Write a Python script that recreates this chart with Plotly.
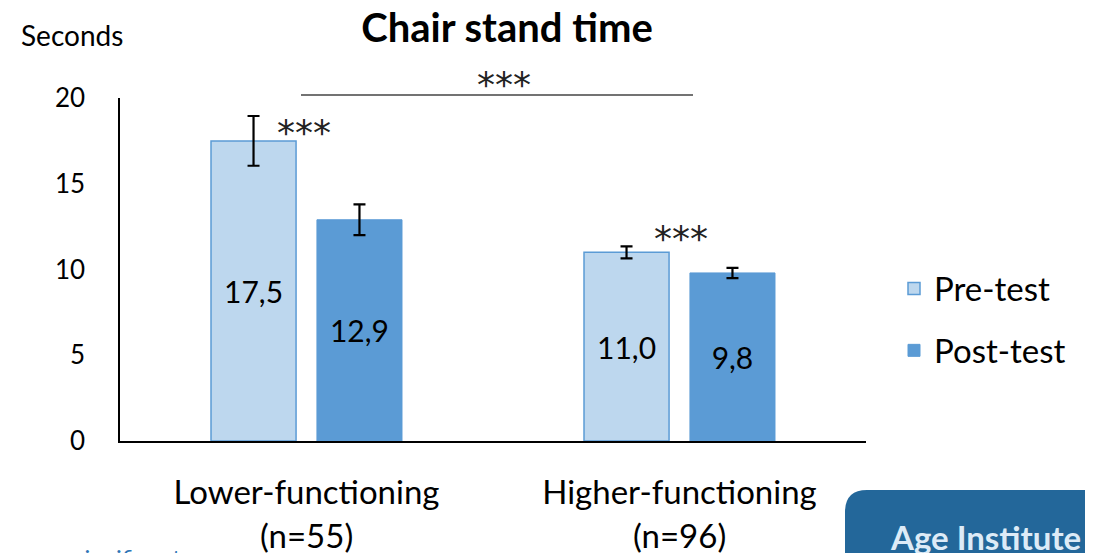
import plotly.graph_objects as go

categories = ["Lower-functioning", "Higher-functioning"]
n_labels = ["(n=55)", "(n=96)"]
pre_values = [17.5, 11.0]
post_values = [12.9, 9.8]
pre_err = [1.45, 0.35]
post_err = [0.9, 0.3]
pre_text = ["17,5", "11,0"]
post_text = ["12,9", "9,8"]
y_ticks = [0, 5, 10, 15, 20]

FONT = "Lato, Calibri, Carlito, sans-serif"
STAR_FONT = "DejaVu Sans, sans-serif"

# page has an 8px body margin; plot area on page spans x 120-866, y 98-441
OFF = 8
PL, PR, PT, PB = 120, 866, 98, 441
W, H = 1093, 553
PW, PH = PR - PL, PB - PT


def px(xp):
    return (xp - PL) / PW


def py(yp):
    return (PB - yp) / PH


fig = go.Figure()
fig.add_trace(go.Bar(
    x=categories, y=pre_values, name="Pre-test",
    marker=dict(color="#BDD7EE", line=dict(color="#5B9BD5", width=1.5)),
    width=0.228, offset=-0.256,
    error_y=dict(type="data", array=pre_err, visible=True, color="black", thickness=2.2, width=6),
    text=pre_text, textposition="inside", insidetextanchor="middle",
    textfont=dict(size=30, color="black", family=FONT),
    legendgroup="a",
))
fig.add_trace(go.Bar(
    x=categories, y=post_values, name="Post-test",
    marker=dict(color="#5B9BD5", line=dict(color="#5B9BD5", width=1)),
    width=0.228, offset=0.028,
    error_y=dict(type="data", array=post_err, visible=True, color="black", thickness=2.2, width=6),
    text=post_text, textposition="inside", insidetextanchor="middle",
    textfont=dict(size=30, color="black", family=FONT),
    legendgroup="b",
))

fig.update_layout(
    width=W, height=H,
    margin=dict(l=PL - OFF, r=W - (PR - OFF), t=PT - OFF, b=H - (PB - OFF)),
    paper_bgcolor="white", plot_bgcolor="white",
    font=dict(family=FONT, color="black"),
    title=dict(text="<b>Chair stand time</b>", x=(507 - OFF) / W, xanchor="center",
               y=1 - (28 - OFF) / H, yanchor="middle", font=dict(size=40, color="black", family=FONT)),
    showlegend=True,
    legend=dict(x=px(894), xanchor="left", y=py(319.5), yanchor="middle",
                font=dict(size=33, family=FONT), traceorder="grouped",
                tracegroupgap=16, bgcolor="rgba(0,0,0,0)"),
    uniformtext=dict(mode=False),
)
fig.update_yaxes(range=[0, 20], tickvals=y_ticks, showgrid=False, zeroline=False,
                 showline=True, linecolor="black", linewidth=1.5,
                 ticks="", ticklabelstandoff=28,
                 tickfont=dict(size=26, family=FONT, color="black"))
fig.update_xaxes(showgrid=False, showline=True, linecolor="black", linewidth=1.5,
                 ticks="", ticklabelstandoff=22,
                 tickfont=dict(size=33, family=FONT, color="black"))

# second line of category labels
for c, nl in zip(categories, n_labels):
    fig.add_annotation(x=c, y=py(535), xref="x", yref="paper", text=nl, showarrow=False,
                       font=dict(size=33, family=FONT, color="black"), yanchor="middle")

# significance stars
star_font = dict(size=36, family=STAR_FONT, color="#222")
fig.add_annotation(x=categories[0], y=pre_values[0] + 0.5, xref="x", yref="y", text="***",
                   showarrow=False, xshift=-3, font=star_font)
fig.add_annotation(x=categories[1], y=pre_values[1] + 0.8, xref="x", yref="y", text="***",
                   showarrow=False, xshift=1, font=star_font)
fig.add_shape(type="line", xref="paper", yref="paper", x0=px(301), x1=px(693), y0=py(95), y1=py(95),
              line=dict(color="#444", width=1.5))
fig.add_annotation(x=px(504), y=py(62), xref="paper", yref="paper", text="***",
                   showarrow=False, font=star_font)

# y-axis unit label
fig.add_annotation(x=px(19), y=py(35), xref="paper", yref="paper", text="Seconds", showarrow=False,
                   font=dict(size=28, family=FONT, color="black"), xanchor="left", yanchor="middle")

# Age Institute box
x0 = px(845)
x1 = px(1200)
y_top = py(490)
y_bot = py(620)
r_x = 22 / PW
r_y = 22 / PH
fig.add_shape(type="path", xref="paper", yref="paper",
              path=(f"M {x0},{y_bot} L {x0},{y_top - r_y} Q {x0},{y_top} {x0 + r_x},{y_top} "
                    f"L {x1},{y_top} L {x1},{y_bot} Z"),
              fillcolor="#23679A", line=dict(width=0), layer="above")
fig.add_annotation(x=px(888), y=py(537), xref="paper", yref="paper",
                   text="<b>Age Institute</b>", showarrow=False, xanchor="left", yanchor="middle",
                   font=dict(size=33, family=FONT, color="#DDEBF7"))

# partially visible footnote
fig.add_annotation(x=px(72), y=py(557), xref="paper", yref="paper",
                   text="significant", showarrow=False, xanchor="left", yanchor="middle",
                   font=dict(size=24, family=FONT, color="#2E75B6"))

fig.write_html("out.html")
